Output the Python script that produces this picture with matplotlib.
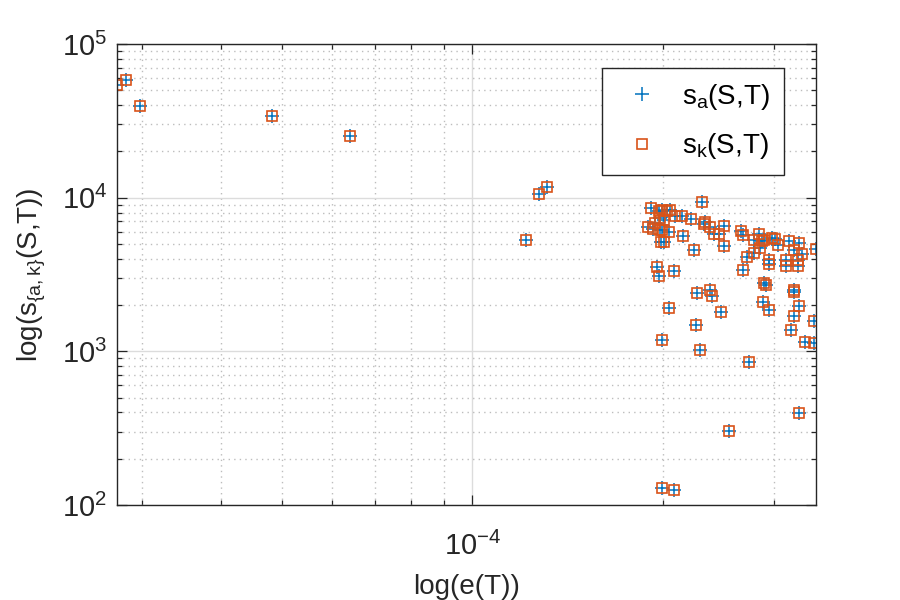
#!/usr/bin/env python
# -*- coding: utf-8 -*-

"""
Log-log scatter of s_a(S,T) and s_k(S,T) against e(T), MATLAB look.
"""

import matplotlib
matplotlib.use('Agg')
import matplotlib.pyplot as plt
from matplotlib.ticker import LogLocator, NullFormatter

# e(T) values (x)
e_T = [0.274e-4, 0.283e-4, 0.298e-4, 0.481e-4, 0.641e-4,
       1.217e-4, 1.272e-4, 1.314e-4,
       1.892e-4, 1.918e-4, 1.930e-4, 1.946e-4, 1.958e-4, 1.970e-4, 1.975e-4,
       1.982e-4, 1.982e-4, 1.991e-4, 1.991e-4, 1.994e-4, 1.994e-4, 1.988e-4,
       2.006e-4, 2.006e-4, 2.031e-4, 2.043e-4, 2.043e-4, 2.055e-4, 2.080e-4,
       2.080e-4, 2.093e-4, 2.145e-4, 2.150e-4, 2.218e-4, 2.237e-4, 2.253e-4,
       2.267e-4, 2.287e-4, 2.303e-4, 2.320e-4, 2.334e-4, 2.371e-4, 2.371e-4,
       2.389e-4, 2.406e-4, 2.450e-4, 2.469e-4, 2.496e-4, 2.502e-4, 2.541e-4,
       2.659e-4, 2.675e-4, 2.675e-4, 2.718e-4, 2.734e-4, 2.784e-4, 2.791e-4,
       2.835e-4, 2.853e-4, 2.870e-4, 2.887e-4, 2.887e-4, 2.916e-4, 2.877e-4,
       2.941e-4, 2.941e-4, 2.941e-4, 2.977e-4, 3.013e-4, 3.038e-4, 3.136e-4,
       3.136e-4, 3.162e-4, 3.186e-4, 3.220e-4, 3.220e-4, 3.228e-4, 3.267e-4,
       3.267e-4, 3.280e-4, 3.280e-4, 3.280e-4, 3.228e-4, 3.321e-4, 3.352e-4,
       3.464e-4, 3.464e-4, 3.494e-4]

# s_a(S,T) values (y)
s_a = [54200, 58480, 39560, 34060, 25350,
       5310, 10570, 11800,
       6440, 8590, 6250, 6850, 3540, 3075, 8140,
       6190, 7380, 1183, 130, 8350, 6130, 5115,
       5115, 7190, 8140, 5980, 1920, 8270, 3330,
       125, 7630, 7550, 5630, 7270, 4570, 1482,
       2394, 1018, 9370, 6770, 6945, 6440, 2516,
       2275, 5800, 5800, 1800, 6580, 4870, 302,
       6035, 5740, 3396, 4110, 851, 5325, 4364,
       5800, 4700, 5190, 5325, 2782, 2712, 2092,
       3945, 3690, 1855, 5465, 5410, 4890, 3945,
       3568, 5190, 1374, 2516, 2435, 4585, 3945,
       3568, 5070, 1970, 396, 1696, 4300, 1153,
       1130, 1580, 4630]

# s_k(S,T) lies on top of s_a(S,T) for every point
s_k = list(s_a)

BLUE = '#0072BD'
ORANGE = '#D95319'
DARK = '#262626'


def main():
    plt.rcParams['font.family'] = ['Liberation Sans', 'DejaVu Sans']
    plt.rcParams['mathtext.fontset'] = 'custom'
    plt.rcParams['mathtext.rm'] = 'Liberation Sans'
    plt.rcParams['mathtext.it'] = 'Liberation Sans'
    plt.rcParams['mathtext.default'] = 'regular'

    fig = plt.figure(figsize=(9, 6), dpi=100)
    ax = fig.add_axes([0.13, 0.1583, 0.7767, 0.7684])

    ax.plot(e_T, s_a, linestyle='none', marker='+', color=BLUE,
            markersize=10, markeredgewidth=1.1, label='s$_a$(S,T)')
    ax.plot(e_T, s_k, linestyle='none', marker='s', markerfacecolor='none',
            markeredgecolor=ORANGE, markersize=7.5, markeredgewidth=1.2,
            label='s$_k$(S,T)')

    ax.set_xscale('log')
    ax.set_yscale('log')
    ax.set_xlim(min(e_T), max(e_T))
    ax.set_ylim(1e2, 1e5)

    for axis in (ax.xaxis, ax.yaxis):
        axis.set_major_locator(LogLocator(base=10))
        axis.set_minor_locator(LogLocator(base=10, subs=range(2, 10)))
        axis.set_minor_formatter(NullFormatter())

    ax.grid(True, which='major', color='#DCDCDC', linestyle='-', linewidth=1.0)
    ax.grid(True, which='minor', color='#BDBDBD', linestyle=(0, (1, 3)), linewidth=1.0)
    ax.set_axisbelow(True)

    ax.tick_params(which='both', direction='in', top=True, right=True,
                   colors=DARK, labelsize=21, width=0.9)
    ax.tick_params(which='major', length=7)
    ax.tick_params(which='minor', length=3.5)
    ax.tick_params(axis='y', which='major', pad=7)
    ax.tick_params(axis='x', which='major', pad=19)
    for spine in ax.spines.values():
        spine.set_color(DARK)
        spine.set_linewidth(1.0)

    ax.set_xlabel('log(e(T))', fontsize=20, color=DARK, labelpad=10)
    ax.set_ylabel('log(s$_{\\{a,k\\}}$(S,T))', fontsize=20, color=DARK, labelpad=10)

    leg = ax.legend(loc='upper right', bbox_to_anchor=(0.954, 0.948),
                    borderaxespad=0, fontsize=20, fancybox=False,
                    framealpha=1, edgecolor=DARK, handlelength=1.9,
                    handletextpad=0.5, borderpad=0.5, labelspacing=0.7)
    leg.get_frame().set_linewidth(1.0)

    plt.savefig('out.png', dpi=100)


if __name__ == "__main__":
    main()
